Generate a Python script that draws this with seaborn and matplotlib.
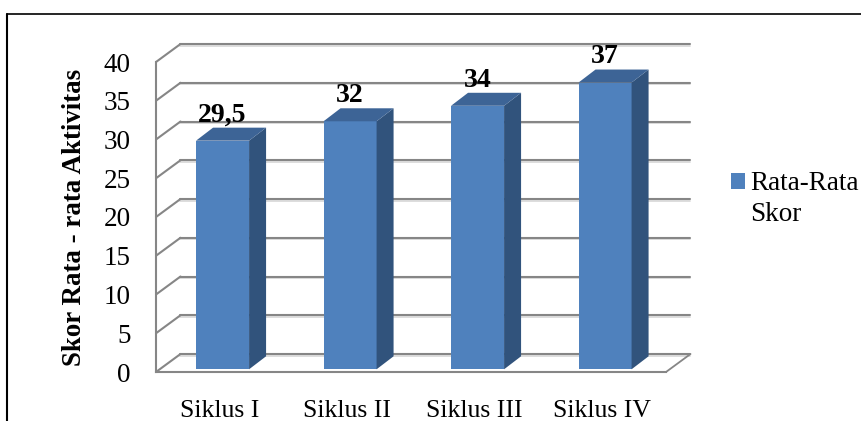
import matplotlib
matplotlib.use("Agg")
import seaborn as sns
import matplotlib.pyplot as plt
from matplotlib.lines import Line2D
from matplotlib.patches import Polygon

siklus = ["Siklus I", "Siklus II", "Siklus III", "Siklus IV"]
skor = [29.5, 32, 34, 37]
label_skor = ["29,5", "32", "34", "37"]
yticks = [0, 5, 10, 15, 20, 25, 30, 35, 40]
seri = "Rata-Rata\nSkor"

W, H = 862, 421
biru = "#4F81BD"
biru_sisi = "#31537C"
biru_atas = "#3D6496"
abu = "#868686"

sns.set_theme(style="white")
plt.rcParams["font.family"] = ["Liberation Serif"]

fig = plt.figure(figsize=(W / 100, H / 100), dpi=100)
ax = fig.add_axes([156 / W, 1 - 372 / H, 510 / W, 310 / H])

sns.barplot(x=siklus, y=skor, color=biru, saturation=1, width=0.416,
            bottom=0.35, linewidth=0, zorder=3, label=seri, ax=ax)
ax.set_xlim(-0.5, 3.5)
ax.set_ylim(0, 40)

# kedalaman 3D dalam satuan data
per_x = 127.5
per_y = 7.75
dx_lantai, dy_lantai = 24.5 / per_x, 18 / per_y
dx_bar, dy_bar = 17 / per_x, 13 / per_y

# garis kisi belakang + diagonal dinding kiri
for v in yticks:
    ax.plot([-0.5 + dx_lantai, 3.5 + dx_lantai], [v + dy_lantai - 0.22] * 2,
            color="#DADADA", lw=1.3, clip_on=False, zorder=1)
    ax.plot([-0.5 + dx_lantai, 3.5 + dx_lantai], [v + dy_lantai] * 2,
            color=abu, lw=1.5, clip_on=False, zorder=1.5)
    ax.plot([-0.5, -0.5 + dx_lantai], [v, v + dy_lantai],
            color=abu, lw=1.5, clip_on=False, zorder=1.5)
# lantai sisi kanan
ax.plot([3.5, 3.5 + dx_lantai], [0, dy_lantai], color=abu, lw=1.3, clip_on=False, zorder=1.5)

# sisi dan atap batang
for bar, teks in zip(ax.patches, label_skor):
    bar.set_x(bar.get_x() + 0.022)
    x0 = bar.get_x()
    x1 = x0 + bar.get_width()
    y0 = bar.get_y()
    y1 = y0 + bar.get_height()
    ax.add_patch(Polygon([(x1, y0), (x1 + dx_bar, y0 + dy_bar), (x1 + dx_bar, y1 + dy_bar), (x1, y1)],
                         color=biru_sisi, lw=0, zorder=3, clip_on=False))
    ax.add_patch(Polygon([(x0, y1), (x1, y1), (x1 + dx_bar, y1 + dy_bar), (x0 + dx_bar, y1 + dy_bar)],
                         color=biru_atas, lw=0, zorder=3, clip_on=False))
    ax.annotate(teks, ((x0 + x1) / 2, y1), xytext=(0, 18.5), textcoords="offset points",
                ha="center", va="center", fontsize=20, fontweight="bold", color="black", zorder=5)

ax.set_yticks(yticks)
ax.set_xticks([-0.5, 0.5, 1.5, 2.5, 3.5], minor=True)
ax.tick_params(axis="x", which="major", length=0, labelsize=18.5, labelcolor="black", pad=20.5)
ax.tick_params(axis="x", which="minor", length=6, width=1.5, color=abu)
ax.tick_params(axis="y", length=6, width=1.5, color=abu, labelsize=19.5, labelcolor="black", pad=12)
ax.set_ylabel("Skor Rata - rata Aktivitas", fontsize=19.4, fontweight="bold", color="black", labelpad=12)

for s in ["top", "right"]:
    ax.spines[s].set_visible(False)
for s in ["left", "bottom"]:
    ax.spines[s].set_color(abu)
    ax.spines[s].set_linewidth(1.5)

leg = ax.legend(loc="upper left", bbox_to_anchor=(731 / W, 1 - 171.5 / H), bbox_transform=fig.transFigure,
                frameon=False, fontsize=19.5, handlelength=0.52, handleheight=0.52, handletextpad=0.18,
                borderpad=0, borderaxespad=0, labelspacing=0, labelcolor="black")
for t in leg.get_texts():
    t.set_linespacing(1.3)
kotak = leg.legend_handles[0]
kotak.set_y(kotak.get_y() + 13)

# bingkai gambar
fig.add_artist(Line2D([7.5 / W, 7.5 / W], [0, 1 - 14 / H], color="black", lw=1.5))
fig.add_artist(Line2D([7 / W, 1], [1 - 14 / H, 1 - 14 / H], color="black", lw=1.2))

fig.savefig("out.png", dpi=100)
